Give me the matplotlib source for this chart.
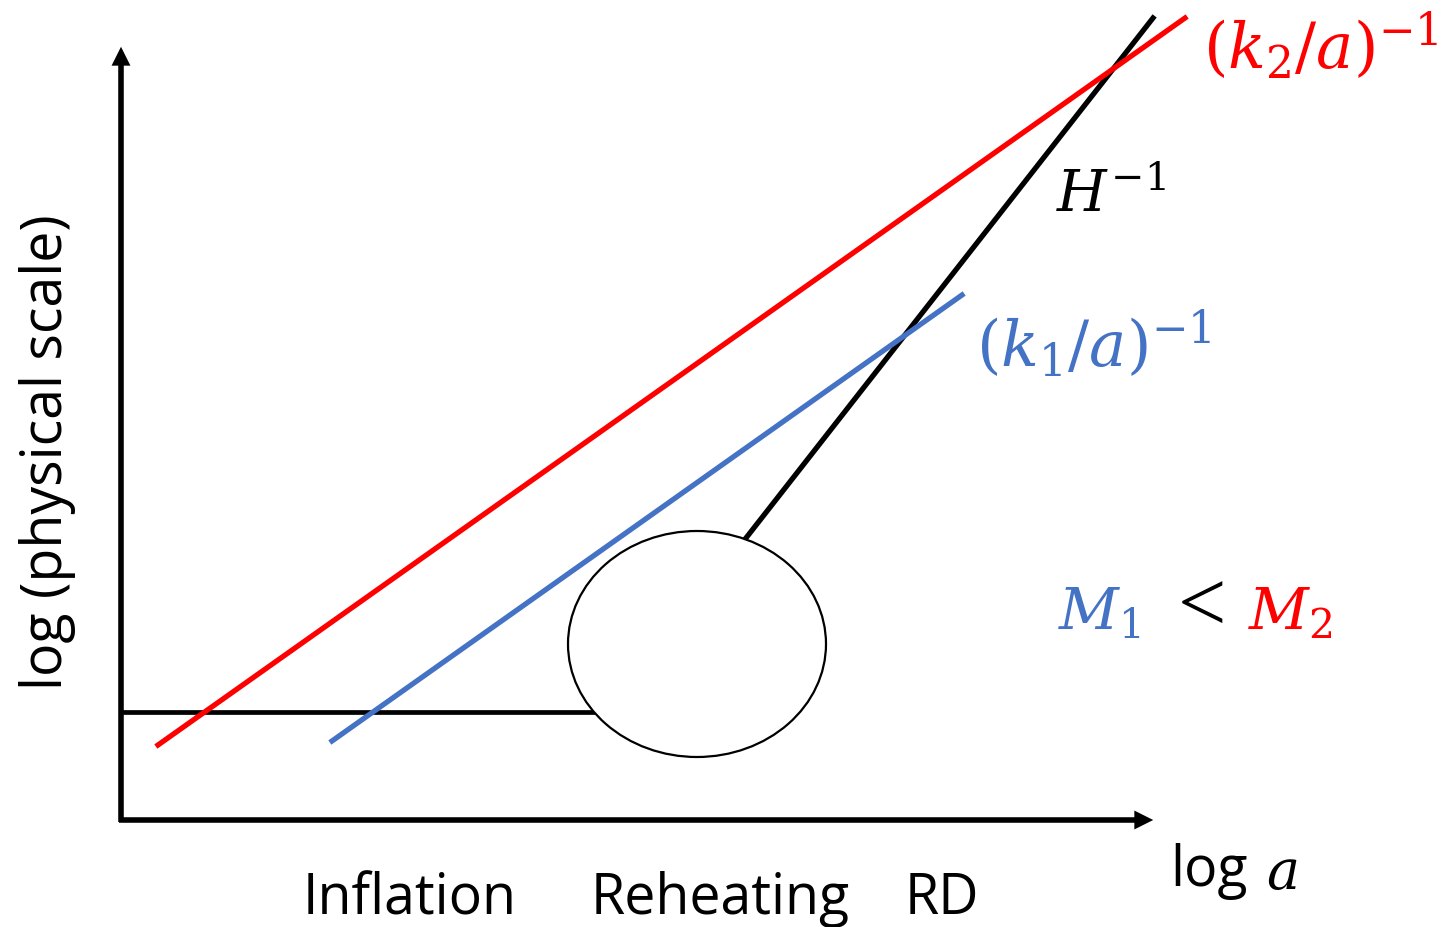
import matplotlib.pyplot as plt
from matplotlib.patches import Ellipse

plt.rcParams['mathtext.fontset'] = 'dejavuserif'

# canvas coordinates (pixels, y downward)
W, H = 1453, 927

# axes of the sketch
yaxis_x = [121, 121]
yaxis_y = [820, 44]
xaxis_x = [121, 1156]
xaxis_y = [820, 820]

# inflation plateau of H^-1
flat_x = [121, 597]
flat_y = [712, 712]

# H^-1 after reheating
rd_x = [746, 1153]
rd_y = [538, 18]

# reheating blob
blob_center = (697, 644)
blob_w, blob_h = 258, 226

# mode lines
k2_x = [158, 1185]
k2_y = [745, 18]
k1_x = [332, 962]
k1_y = [741, 295]

red = '#FF0000'
blue = '#4472C4'

phases = ['Inflation', 'Reheating', 'RD']
phase_x = [303, 591, 905]

fig = plt.figure(figsize=(W / 100, H / 100), dpi=100)
ax = fig.add_axes([0, 0, 1, 1])
ax.set_xlim(0, W)
ax.set_ylim(H, 0)
ax.axis('off')

# axes with arrow heads
ax.plot(yaxis_x, [yaxis_y[0] + 2, yaxis_y[1] + 20], color='black', lw=4, solid_capstyle='butt')
ax.plot([xaxis_x[0] - 2, xaxis_x[1] - 20], xaxis_y, color='black', lw=4, solid_capstyle='butt')
ax.annotate('', xy=(yaxis_x[1], yaxis_y[1]), xytext=(yaxis_x[1], yaxis_y[1] + 30),
            arrowprops=dict(arrowstyle='-|>', color='black', lw=0, mutation_scale=34))
ax.annotate('', xy=(xaxis_x[1], xaxis_y[1]), xytext=(xaxis_x[1] - 30, xaxis_y[1]),
            arrowprops=dict(arrowstyle='-|>', color='black', lw=0, mutation_scale=34))

ax.plot(flat_x, flat_y, color='black', lw=3.4, zorder=2)
ax.plot(rd_x, rd_y, color='black', lw=3.8, zorder=2)
ax.plot(k2_x, k2_y, color=red, lw=3.8, zorder=3)
ax.plot(k1_x, k1_y, color=blue, lw=3.8, zorder=3)

ax.add_patch(Ellipse(blob_center, blob_w, blob_h, facecolor='white',
                     edgecolor='black', lw=1.6, zorder=4))

# labels
ax.text(1203, 46, r'$(k_2/a)^{-1}$', color=red, fontsize=45, va='center', ha='left')
ax.text(1056, 196, r'$H^{-1}$', color='black', fontsize=41, va='center', ha='left')
ax.text(976, 344, r'$(k_1/a)^{-1}$', color=blue, fontsize=45, va='center', ha='left')
ax.text(1058, 612, r'$M_1$', color=blue, fontsize=42, va='center', ha='left')
ax.text(1202, 610, '<', color='black', fontsize=62, family='Liberation Serif',
        va='center', ha='center')
ax.text(1248, 612, r'$M_2$', color=red, fontsize=42, va='center', ha='left')

ax.text(48, 452, 'log (physical scale)', rotation=90, fontsize=40, family='Open Sans',
        va='center', ha='center')
for name, px in zip(phases, phase_x):
    ax.text(px, 900, name, fontsize=40, family='Open Sans', va='center', ha='left')
ax.text(1170, 872, 'log', fontsize=40, family='Open Sans', va='center', ha='left')
ax.text(1266, 874, r'$a$', fontsize=40, va='center', ha='left')

fig.savefig('out.png', dpi=100)
